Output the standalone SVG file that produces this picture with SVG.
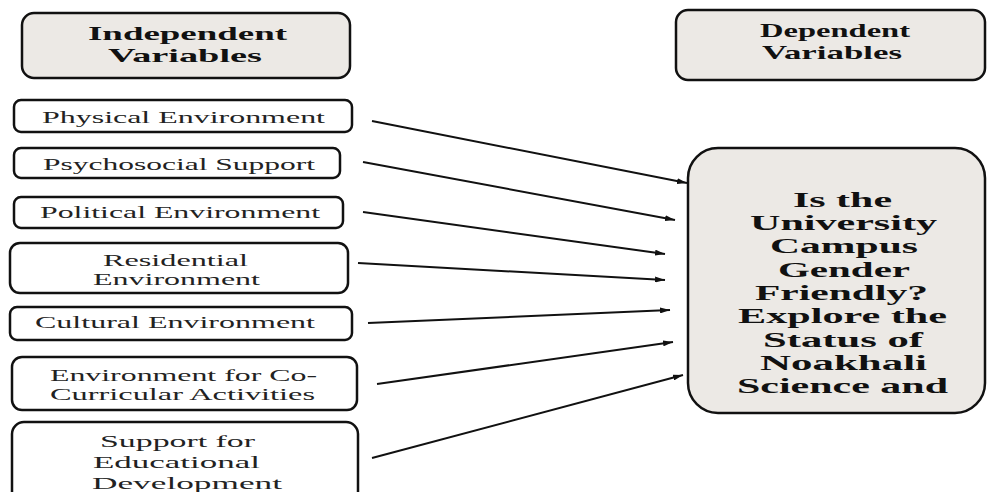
<svg xmlns="http://www.w3.org/2000/svg" width="989" height="492" viewBox="0 0 989 492">
<style>
.hbox{fill:#ece9e5;stroke:#111;stroke-width:2.5}
.box{fill:#fff;stroke:#111;stroke-width:2.5}
.ht{font-family:'Liberation Serif','Times New Roman',serif;font-weight:bold;font-size:19px;fill:#111}
.t{font-family:'Liberation Serif','Times New Roman',serif;font-size:16px;fill:#222}
.mt{font-family:'Liberation Serif','Times New Roman',serif;font-weight:bold;font-size:21px;fill:#111}
.c{stroke:#111;stroke-width:2;fill:none;marker-end:url(#ah)}
</style>
<defs>
<marker id="ah" viewBox="0 0 10 6" refX="10" refY="3" markerWidth="10" markerHeight="6" markerUnits="userSpaceOnUse" orient="auto">
<path d="M0,0 L10,3 L0,6 z" fill="#111"/>
</marker>
</defs>
<rect width="989" height="492" fill="#fff"/>
<g id="independent">
<rect class="hbox" x="22" y="13" width="328" height="65" rx="12"/>
<text class="ht" x="88" y="40" textLength="199" lengthAdjust="spacingAndGlyphs">Independent</text>
<text class="ht" x="108" y="62" textLength="154" lengthAdjust="spacingAndGlyphs">Variables</text>
</g>
<g id="dependent">
<rect class="hbox" x="676" y="10" width="309" height="70" rx="12"/>
<text class="ht" x="760" y="37" textLength="150" lengthAdjust="spacingAndGlyphs">Dependent</text>
<text class="ht" x="762" y="59" textLength="140" lengthAdjust="spacingAndGlyphs">Variables</text>
</g>
<g id="physical">
<rect class="box" x="14" y="100" width="338" height="32" rx="7"/>
<text class="t" x="42" y="123" textLength="283" lengthAdjust="spacingAndGlyphs">Physical Environment</text>
</g>
<g id="psychosocial">
<rect class="box" x="14" y="148" width="326" height="30" rx="7"/>
<text class="t" x="43" y="170" textLength="272" lengthAdjust="spacingAndGlyphs">Psychosocial Support</text>
</g>
<g id="political">
<rect class="box" x="14" y="197" width="329" height="31" rx="7"/>
<text class="t" x="40" y="218" textLength="280" lengthAdjust="spacingAndGlyphs">Political Environment</text>
</g>
<g id="residential">
<rect class="box" x="10" y="243" width="338" height="50" rx="10"/>
<text class="t" x="103" y="266" textLength="145" lengthAdjust="spacingAndGlyphs">Residential</text>
<text class="t" x="93" y="285" textLength="167" lengthAdjust="spacingAndGlyphs">Environment</text>
</g>
<g id="cultural">
<rect class="box" x="10" y="307" width="342" height="33" rx="7"/>
<text class="t" x="35" y="328" textLength="280" lengthAdjust="spacingAndGlyphs">Cultural Environment</text>
</g>
<g id="cocurricular">
<rect class="box" x="12" y="357" width="345" height="53" rx="10"/>
<text class="t" x="50" y="381" textLength="267" lengthAdjust="spacingAndGlyphs">Environment for Co-</text>
<text class="t" x="50" y="400" textLength="265" lengthAdjust="spacingAndGlyphs">Curricular Activities</text>
</g>
<g id="educational">
<rect class="box" x="12" y="422" width="346" height="85" rx="12"/>
<text class="t" x="100" y="447" textLength="155" lengthAdjust="spacingAndGlyphs">Support for</text>
<text class="t" x="93" y="468" textLength="167" lengthAdjust="spacingAndGlyphs">Educational</text>
<text class="t" x="92" y="489" textLength="190" lengthAdjust="spacingAndGlyphs">Development</text>
</g>
<g id="outcome">
<rect class="hbox" x="688" y="148" width="297" height="265" rx="30"/>
<text class="mt" x="793" y="207" textLength="99" lengthAdjust="spacingAndGlyphs">Is the</text>
<text class="mt" x="750" y="230" textLength="187" lengthAdjust="spacingAndGlyphs">University</text>
<text class="mt" x="770" y="253" textLength="148" lengthAdjust="spacingAndGlyphs">Campus</text>
<text class="mt" x="778" y="277" textLength="132" lengthAdjust="spacingAndGlyphs">Gender</text>
<text class="mt" x="755" y="300" textLength="173" lengthAdjust="spacingAndGlyphs">Friendly?</text>
<text class="mt" x="738" y="323" textLength="209" lengthAdjust="spacingAndGlyphs">Explore the</text>
<text class="mt" x="763" y="347" textLength="160" lengthAdjust="spacingAndGlyphs">Status of</text>
<text class="mt" x="760" y="370" textLength="167" lengthAdjust="spacingAndGlyphs">Noakhali</text>
<text class="mt" x="737" y="393" textLength="211" lengthAdjust="spacingAndGlyphs">Science and</text>
</g>
<g id="connectors">
<line class="c" x1="372" y1="121" x2="687" y2="183"/>
<line class="c" x1="363" y1="162" x2="675" y2="220"/>
<line class="c" x1="363" y1="212" x2="665" y2="254"/>
<line class="c" x1="358" y1="263" x2="665" y2="280"/>
<line class="c" x1="368" y1="323" x2="670" y2="310"/>
<line class="c" x1="377" y1="384" x2="673" y2="342"/>
<line class="c" x1="372" y1="458" x2="683" y2="375"/>
</g>
</svg>
